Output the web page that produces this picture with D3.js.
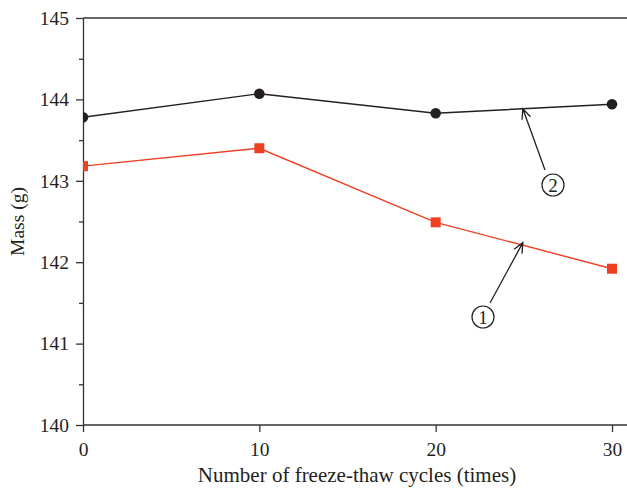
<!DOCTYPE html>
<html>
<head>
<meta charset="utf-8">
<script src="https://cdn.jsdelivr.net/npm/d3@7"></script>
<style>
  body { margin: 0; background: #fff; }
  text { font-family: "Liberation Serif", "DejaVu Serif", serif; fill: #231f20; }
</style>
</head>
<body>
<svg width="627" height="490"></svg>
<script>
var cycles = [0, 10, 20, 30];
var mass1 = [143.18, 143.40, 142.49, 141.92];   // red squares, label 1
var mass2 = [143.78, 144.07, 143.83, 143.94];   // black circles, label 2
var xTicks = [0, 10, 20, 30];
var yTicks = [140, 141, 142, 143, 144, 145];
var yMinor = [140.5, 141.5, 142.5, 143.5, 144.5];

var svg = d3.select("svg");
var mLeft = 83, mTop = 18, mBottom = 425, mRight = 627;

var x = d3.scaleLinear().domain([0, 30]).range([mLeft, 612]);
var y = d3.scaleLinear().domain([140, 145]).range([mBottom, mTop]);

var axisColor = "#333";

// frame: top line
svg.append("line")
    .attr("x1", mLeft).attr("x2", mRight)
    .attr("y1", mTop).attr("y2", mTop)
    .attr("stroke", axisColor).attr("stroke-width", 1.3);

var xAxis = svg.append("g")
    .attr("transform", "translate(0," + mBottom + ")")
    .call(d3.axisBottom(x).tickValues(xTicks).tickFormat(d3.format("d"))
        .tickSize(7).tickPadding(10).tickSizeOuter(0));
xAxis.select(".domain").attr("d", "M" + mLeft + ",0H" + mRight);

var yAxis = svg.append("g")
    .attr("transform", "translate(" + mLeft + ",0)")
    .call(d3.axisLeft(y).tickValues(yTicks).tickFormat(d3.format("d"))
        .tickSize(7).tickPadding(7).tickSizeOuter(0));

svg.append("g")
    .attr("transform", "translate(" + mLeft + ",0)")
    .call(d3.axisLeft(y).tickValues(yMinor).tickSize(4).tickFormat("").tickSizeOuter(0))
    .select(".domain").remove();

svg.selectAll(".domain, .tick line").attr("stroke", axisColor).attr("stroke-width", 1.3);
svg.selectAll(".tick text").attr("font-size", 19.5).attr("fill", "#231f20")
    .style("font-family", "Liberation Serif, serif");

svg.append("text")
    .attr("x", 357).attr("y", 482)
    .attr("text-anchor", "middle").attr("font-size", 21)
    .text("Number of freeze-thaw cycles (times)");

svg.append("text")
    .attr("transform", "translate(24," + ((mTop + mBottom) / 2) + ") rotate(-90)")
    .attr("text-anchor", "middle").attr("font-size", 19.5)
    .text("Mass (g)");

var line = d3.line().x(function (d) { return x(d[0]); }).y(function (d) { return y(d[1]); });
var data1 = cycles.map(function (c, i) { return [c, mass1[i]]; });
var data2 = cycles.map(function (c, i) { return [c, mass2[i]]; });

svg.append("clipPath").attr("id", "plot")
    .append("rect").attr("x", mLeft).attr("y", 0).attr("width", mRight - mLeft).attr("height", 490);

svg.append("path").datum(data2).attr("d", line)
    .attr("fill", "none").attr("stroke", "#231f20").attr("stroke-width", 1.4);
svg.append("path").datum(data1).attr("d", line)
    .attr("fill", "none").attr("stroke", "#ef4023").attr("stroke-width", 1.4);

var marks = svg.append("g").attr("clip-path", "url(#plot)");
marks.selectAll("circle").data(data2).enter().append("circle")
    .attr("cx", function (d) { return x(d[0]); })
    .attr("cy", function (d) { return y(d[1]); })
    .attr("r", 5.3).attr("fill", "#231f20");
marks.selectAll("rect").data(data1).enter().append("rect")
    .attr("x", function (d) { return x(d[0]) - 5; })
    .attr("y", function (d) { return y(d[1]) - 5; })
    .attr("width", 10).attr("height", 10).attr("fill", "#ef4023");

// annotation arrows
function arrow(xStart, yStart, xTip, yTip) {
    var ang = Math.atan2(yStart - yTip, xStart - xTip), len = 11, spread = 0.42;
    svg.append("path")
        .attr("d", "M" + xStart + "," + yStart + "L" + xTip + "," + yTip +
            "M" + (xTip + len * Math.cos(ang - spread)) + "," + (yTip + len * Math.sin(ang - spread)) +
            "L" + xTip + "," + yTip +
            "L" + (xTip + len * Math.cos(ang + spread)) + "," + (yTip + len * Math.sin(ang + spread)))
        .attr("fill", "none").attr("stroke", "#231f20").attr("stroke-width", 1.3);
}
var tip2 = [25, 143.885], tip1 = [25, 142.24];
arrow(545, 170, x(tip2[0]) - 1, y(tip2[1]));
arrow(490, 303, x(tip1[0]) - 1, y(tip1[1]));

function circled(cx, cy, label) {
    svg.append("circle").attr("cx", cx).attr("cy", cy).attr("r", 11)
        .attr("fill", "none").attr("stroke", "#231f20").attr("stroke-width", 1.2);
    svg.append("text").attr("x", cx).attr("y", cy + 6.5).attr("text-anchor", "middle")
        .attr("font-size", 19).text(label);
}
circled(553, 185, "2");
circled(483, 317, "1");
</script>
</body>
</html>
